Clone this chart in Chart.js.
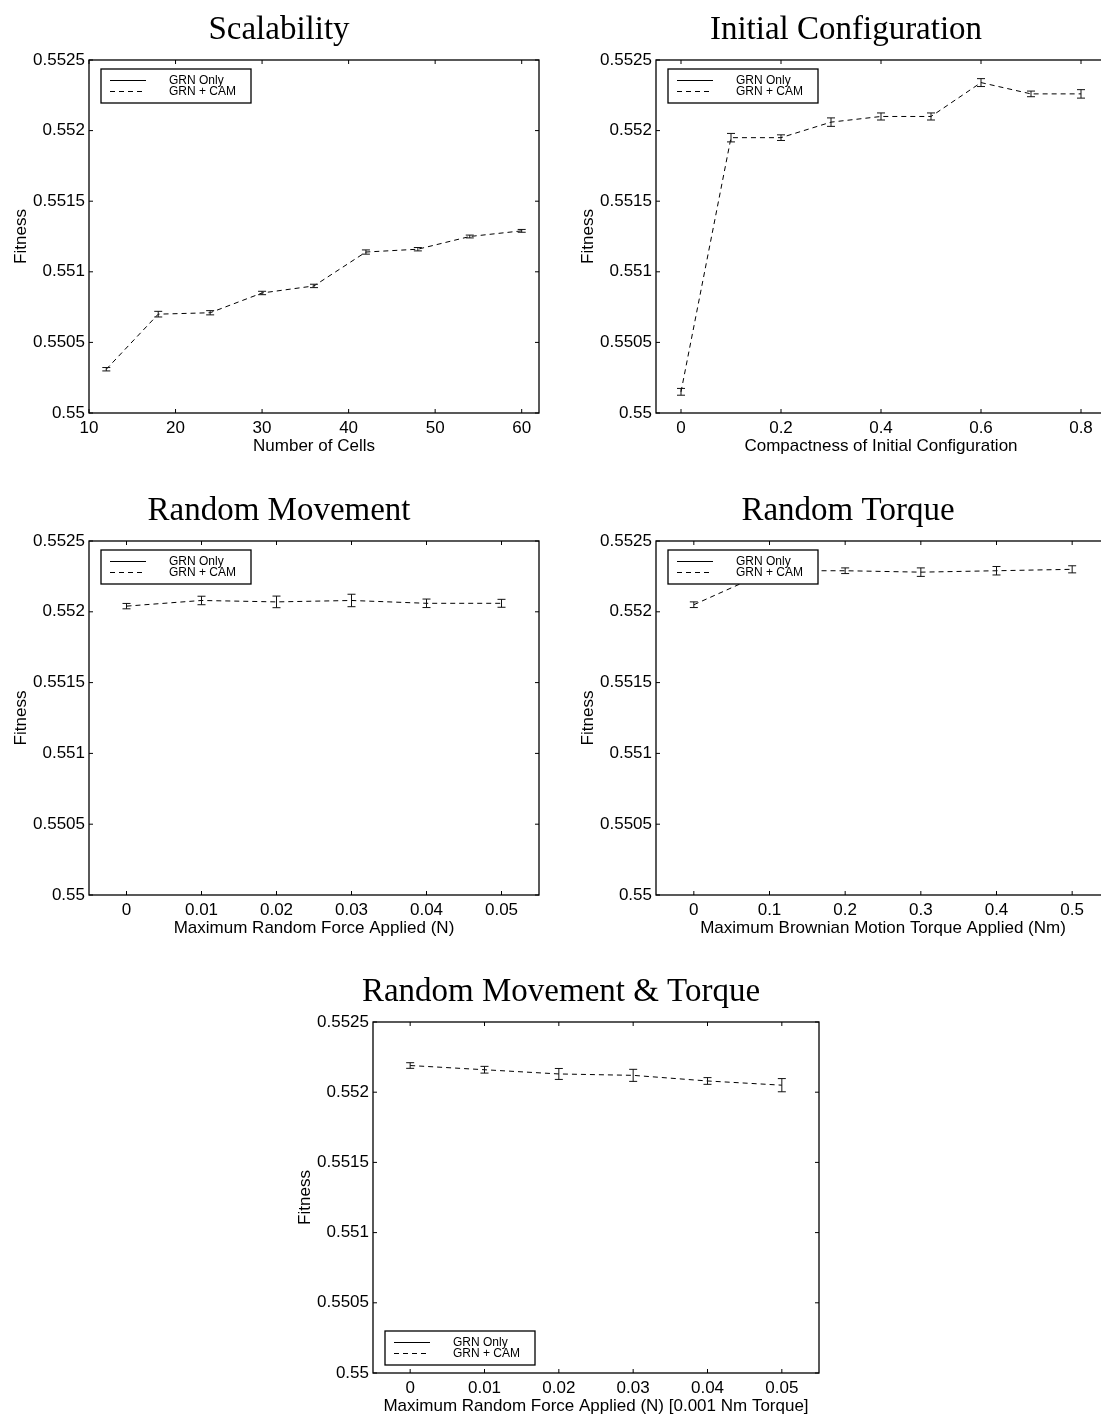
<!DOCTYPE html>
<html lang="en">
  <head>
    <meta charset="UTF-8" />
    <title>Fitness panels</title>
    <style>
      * {
        margin: 0;
        padding: 0;
      }
      body {
        background: white;
        width: 1101px;
        height: 1416px;
        overflow: hidden;
        position: relative;
      }
      canvas {
        position: absolute;
      }
    </style>
  </head>
  <body>
    <script src="https://cdn.jsdelivr.net/npm/chart.js"></script>
    <script>
      // values
      const yTicks = [0.55, 0.5505, 0.551, 0.5515, 0.552, 0.5525];

      const cellsX = [12, 18, 24, 30, 36, 42, 48, 54, 60];
      const cellsY = [0.55031, 0.5507, 0.55071, 0.55085, 0.5509, 0.55114, 0.55116, 0.55125, 0.55129];
      const cellsErr = [0.000012, 0.00002, 0.000015, 0.000012, 0.000012, 0.000015, 0.000012, 0.00001, 0.00001];
      const cellsTicks = [10, 20, 30, 40, 50, 60];

      const compX = [0, 0.1, 0.2, 0.3, 0.4, 0.5, 0.6, 0.7, 0.8];
      const compY = [0.55015, 0.55195, 0.55195, 0.55206, 0.5521, 0.5521, 0.55234, 0.55226, 0.55226];
      const compErr = [0.000024, 0.00003, 0.00002, 0.00003, 0.000025, 0.000025, 0.000028, 0.00002, 0.00003];
      const compTicks = [0, 0.2, 0.4, 0.6, 0.8];

      const forceX = [0, 0.01, 0.02, 0.03, 0.04, 0.05];
      const forceY = [0.55204, 0.55208, 0.55207, 0.55208, 0.55206, 0.55206];
      const forceErr = [0.000019, 0.00003, 0.000041, 0.000044, 0.00003, 0.000028];
      const forceTicks = [0, 0.01, 0.02, 0.03, 0.04, 0.05];

      const torqueX = [0, 0.1, 0.2, 0.3, 0.4, 0.5];
      const torqueY = [0.55205, 0.55229, 0.55229, 0.55228, 0.55229, 0.5523];
      const torqueErr = [0.00002, 0.00002, 0.00002, 0.00003, 0.00003, 0.000025];
      const torqueTicks = [0, 0.1, 0.2, 0.3, 0.4, 0.5];

      const bothX = [0, 0.01, 0.02, 0.03, 0.04, 0.05];
      const bothY = [0.55219, 0.55216, 0.55213, 0.55212, 0.55208, 0.55205];
      const bothErr = [0.00002, 0.000024, 0.000039, 0.000043, 0.000024, 0.000047];
      const bothTicks = [0, 0.01, 0.02, 0.03, 0.04, 0.05];

      const SANS = "'Liberation Sans', Arial, Helvetica, sans-serif";
      const SERIF = "'Liberation Serif', 'Times New Roman', serif";
      const AXIS_W = 89;
      const TOP_PAD = 60;
      const RIGHT_PAD = 24;
      const XAXIS_H = 44;

      const panels = [
        { title: "Scalability", xLabel: "Number of Cells", xs: cellsX, ys: cellsY, errs: cellsErr,
          xTicks: cellsTicks, xMin: 10, xMax: 62, box: { l: 89, t: 60, r: 539, b: 413 }, corner: "nw" },
        { title: "Initial Configuration", xLabel: "Compactness of Initial Configuration", xs: compX, ys: compY, errs: compErr,
          xTicks: compTicks, xMin: -0.05, xMax: 0.85, box: { l: 656, t: 60, r: 1106, b: 413 }, corner: "nw" },
        { title: "Random Movement", xLabel: "Maximum Random Force Applied (N)", xs: forceX, ys: forceY, errs: forceErr,
          xTicks: forceTicks, xMin: -0.005, xMax: 0.055, box: { l: 89, t: 541, r: 539, b: 895 }, corner: "nw" },
        { title: "Random Torque", xLabel: "Maximum Brownian Motion Torque Applied (Nm)", xs: torqueX, ys: torqueY, errs: torqueErr,
          xTicks: torqueTicks, xMin: -0.05, xMax: 0.55, box: { l: 656, t: 541, r: 1110, b: 895 }, corner: "nw" },
        { title: "Random Movement & Torque", xLabel: "Maximum Random Force Applied (N) [0.001 Nm Torque]", xs: bothX, ys: bothY, errs: bothErr,
          xTicks: bothTicks, xMin: -0.005, xMax: 0.055, box: { l: 373, t: 1022, r: 819, b: 1373 }, corner: "sw" },
      ];

      const fmt = (v) => String(parseFloat(Number(v).toFixed(5)));

      // error bars, frame with inward ticks, title and boxed legend
      const figurePlugin = {
        id: "figure",
        afterDatasetsDraw(chart, args, opts) {
          const { ctx, chartArea: a, scales } = chart;
          const x = scales.x, y = scales.y;
          ctx.save();
          ctx.strokeStyle = "#111";
          ctx.lineWidth = 1;
          opts.xs.forEach((xv, i) => {
            const px = x.getPixelForValue(xv);
            const top = y.getPixelForValue(opts.ys[i] + opts.errs[i]);
            const bot = y.getPixelForValue(opts.ys[i] - opts.errs[i]);
            ctx.beginPath();
            ctx.moveTo(px, top);
            ctx.lineTo(px, bot);
            ctx.moveTo(px - 4, top);
            ctx.lineTo(px + 4, top);
            ctx.moveTo(px - 4, bot);
            ctx.lineTo(px + 4, bot);
            ctx.stroke();
          });

          // frame
          ctx.strokeStyle = "#000";
          ctx.lineWidth = 1.3;
          ctx.strokeRect(a.left, a.top, a.right - a.left, a.bottom - a.top);
          ctx.lineWidth = 1;
          ctx.beginPath();
          x.ticks.forEach((t) => {
            const px = x.getPixelForValue(t.value);
            ctx.moveTo(px, a.bottom);
            ctx.lineTo(px, a.bottom - 4);
            ctx.moveTo(px, a.top);
            ctx.lineTo(px, a.top + 4);
          });
          y.ticks.forEach((t) => {
            const py = y.getPixelForValue(t.value);
            ctx.moveTo(a.left, py);
            ctx.lineTo(a.left + 4, py);
            ctx.moveTo(a.right, py);
            ctx.lineTo(a.right - 4, py);
          });
          ctx.stroke();
          ctx.restore();
        },
        afterDraw(chart, args, opts) {
          const { ctx, chartArea: a } = chart;
          ctx.save();
          // title
          ctx.fillStyle = "#000";
          ctx.font = "33px " + SERIF;
          ctx.textAlign = "center";
          ctx.textBaseline = "alphabetic";
          ctx.fillText(opts.title, (a.left + a.right) / 2 - 35, a.top - 21);

          // legend
          const w = 150, h = 34;
          const lx = a.left + 12;
          const ly = opts.corner === "sw" ? a.bottom - 8 - h : a.top + 9;
          ctx.fillStyle = "#fff";
          ctx.fillRect(lx, ly, w, h);
          ctx.strokeStyle = "#000";
          ctx.lineWidth = 1.3;
          ctx.strokeRect(lx, ly, w, h);
          ctx.font = "12px " + SANS;
          ctx.textAlign = "left";
          ctx.textBaseline = "middle";
          chart.data.datasets.forEach((ds, i) => {
            const ry = ly + 11.5 + i * 11;
            ctx.lineWidth = 1;
            ctx.setLineDash(ds.borderDash || []);
            ctx.beginPath();
            ctx.moveTo(lx + 9, ry);
            ctx.lineTo(lx + 45, ry);
            ctx.stroke();
            ctx.setLineDash([]);
            ctx.fillStyle = "#000";
            ctx.fillText(ds.label, lx + 68, ry);
          });
          ctx.restore();
        },
      };

      panels.forEach((p) => {
        const canvas = document.createElement("canvas");
        const w = p.box.r - p.box.l + AXIS_W + RIGHT_PAD;
        const h = p.box.b - p.box.t + TOP_PAD + XAXIS_H;
        canvas.width = w;
        canvas.height = h;
        canvas.style.left = p.box.l - AXIS_W + "px";
        canvas.style.top = p.box.t - TOP_PAD + "px";
        document.body.appendChild(canvas);

        new Chart(canvas, {
          type: "line",
          data: {
            datasets: [
              { label: "GRN Only", data: [], borderColor: "#000", borderWidth: 1, borderDash: [] },
              {
                label: "GRN + CAM",
                data: p.xs.map((x, i) => ({ x: x, y: p.ys[i] })),
                borderColor: "#000",
                borderWidth: 1,
                borderDash: [5, 4],
                pointRadius: 0,
                tension: 0,
              },
            ],
          },
          options: {
            responsive: false,
            animation: false,
            devicePixelRatio: 1,
            layout: { padding: { top: TOP_PAD, right: RIGHT_PAD, left: 0, bottom: 0 } },
            plugins: {
              legend: { display: false },
              title: { display: false },
              tooltip: { enabled: false },
              figure: { title: p.title, corner: p.corner, xs: p.xs, ys: p.ys, errs: p.errs },
            },
            scales: {
              x: {
                type: "linear",
                min: p.xMin,
                max: p.xMax,
                afterBuildTicks: (s) => {
                  s.ticks = p.xTicks.map((v) => ({ value: v }));
                },
                afterFit: (s) => {
                  s.height = XAXIS_H;
                },
                grid: { display: false, drawTicks: false },
                border: { display: false },
                ticks: {
                  color: "#000",
                  font: { family: SANS, size: 17 },
                  padding: 5,
                  maxRotation: 0,
                  autoSkip: false,
                  callback: (v) => fmt(v),
                },
                title: {
                  display: true,
                  text: p.xLabel,
                  color: "#000",
                  font: { family: SANS, size: 17 },
                  padding: { top: 0, bottom: 0 },
                },
              },
              y: {
                type: "linear",
                min: 0.55,
                max: 0.5525,
                afterBuildTicks: (s) => {
                  s.ticks = yTicks.map((v) => ({ value: v }));
                },
                afterFit: (s) => {
                  s.width = AXIS_W;
                },
                grid: { display: false, drawTicks: false },
                border: { display: false },
                ticks: {
                  color: "#000",
                  font: { family: SANS, size: 17 },
                  padding: 4,
                  autoSkip: false,
                  callback: (v) => fmt(v),
                },
                title: {
                  display: true,
                  text: "Fitness",
                  color: "#000",
                  font: { family: SANS, size: 17 },
                  padding: { top: 11, bottom: 0 },
                },
              },
            },
          },
          plugins: [figurePlugin],
        });
      });
    </script>
  </body>
</html>
